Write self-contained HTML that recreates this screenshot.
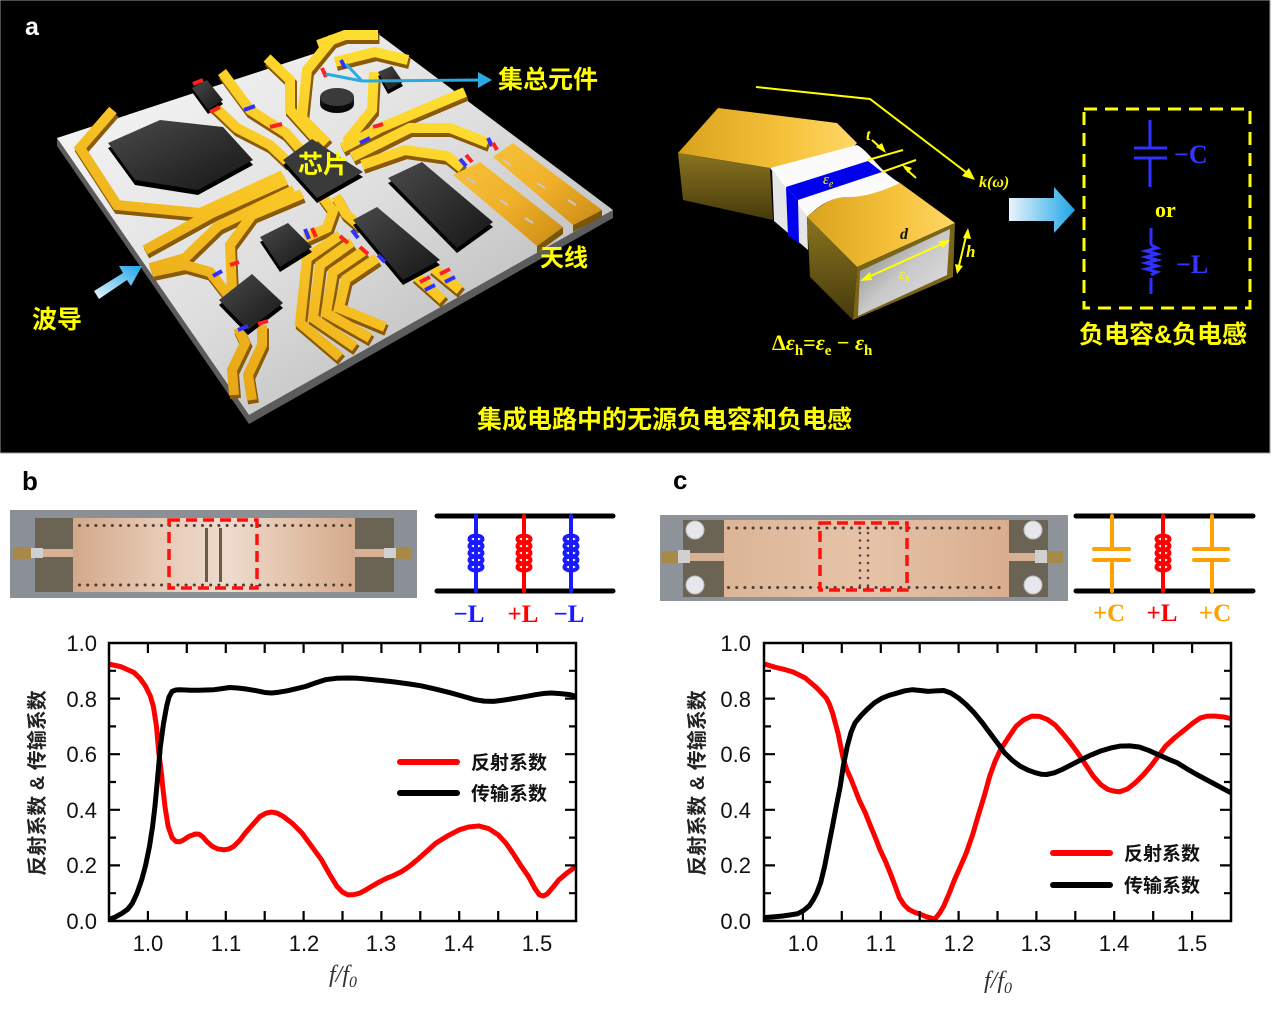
<!DOCTYPE html>
<html><head><meta charset="utf-8">
<style>
html,body{margin:0;padding:0;background:#fff;}
svg{display:block;}
.cn{font-family:"Liberation Sans","Noto Sans CJK SC",sans-serif;font-weight:bold;}
.sf{font-family:"Liberation Serif",serif;font-weight:bold;}
.ax{font-family:"Liberation Sans",sans-serif;font-size:22px;fill:#111;}
</style></head><body>
<svg width="1274" height="1011" viewBox="0 0 1274 1011" xmlns="http://www.w3.org/2000/svg">
<defs>
<linearGradient id="boardG" x1="0" y1="0" x2="1" y2="1">
<stop offset="0" stop-color="#fafafa"/><stop offset="0.5" stop-color="#dedede"/><stop offset="1" stop-color="#a9a9a9"/>
</linearGradient>
<linearGradient id="goldT" gradientUnits="userSpaceOnUse" x1="400" y1="40" x2="150" y2="400">
<stop offset="0" stop-color="#ffe030"/><stop offset="0.5" stop-color="#f8c424"/><stop offset="1" stop-color="#e39d12"/>
</linearGradient>
<linearGradient id="compG" x1="0" y1="0" x2="1" y2="1">
<stop offset="0" stop-color="#4a4a4a"/><stop offset="1" stop-color="#161616"/>
</linearGradient>
<linearGradient id="slabG" x1="0" y1="0" x2="1" y2="1">
<stop offset="0" stop-color="#f6c23a"/><stop offset="0.5" stop-color="#f0b02a"/><stop offset="1" stop-color="#c98a14"/>
</linearGradient>
<linearGradient id="wgTop" x1="0" y1="0" x2="1" y2="0">
<stop offset="0" stop-color="#d9a21e"/><stop offset="0.6" stop-color="#f5c23a"/><stop offset="1" stop-color="#ffd768"/>
</linearGradient>
<linearGradient id="wgSide" x1="0" y1="0" x2="0" y2="1">
<stop offset="0" stop-color="#8a7420"/><stop offset="1" stop-color="#463a0c"/>
</linearGradient>
<linearGradient id="grayIn" x1="0" y1="0" x2="1" y2="1">
<stop offset="0" stop-color="#7a7a7a"/><stop offset="0.5" stop-color="#c9c9c9"/><stop offset="1" stop-color="#e4e4e4"/>
</linearGradient>
<linearGradient id="arrG" x1="0" y1="0" x2="1" y2="0">
<stop offset="0" stop-color="#e8f4fc"/><stop offset="1" stop-color="#1ea6e6"/>
</linearGradient>
<linearGradient id="arrG2" x1="0" y1="1" x2="1" y2="0">
<stop offset="0" stop-color="#e8f4fc"/><stop offset="1" stop-color="#1ea6e6"/>
</linearGradient>
<linearGradient id="cuB" x1="0" y1="0" x2="1" y2="0">
<stop offset="0" stop-color="#d3a889"/><stop offset="0.3" stop-color="#e7c9b4"/><stop offset="0.55" stop-color="#eedbcd"/><stop offset="0.8" stop-color="#e2c0a6"/><stop offset="1" stop-color="#d4a98b"/>
</linearGradient>
<linearGradient id="cuC" x1="0" y1="0" x2="1" y2="0">
<stop offset="0" stop-color="#dcb597"/><stop offset="0.5" stop-color="#e6c3a8"/><stop offset="1" stop-color="#d9ad8e"/>
</linearGradient>
<pattern id="dotsB" x="77" y="523" width="8.2" height="59.5" patternUnits="userSpaceOnUse">
<circle cx="2.5" cy="2.5" r="1.5" fill="#4a3a30"/></pattern>
<pattern id="dotsC" x="726" y="525.5" width="8.2" height="59.5" patternUnits="userSpaceOnUse">
<circle cx="2.5" cy="2.5" r="1.5" fill="#4a3a30"/></pattern>
<pattern id="viaC" x="857" y="530" width="8" height="7.5" patternUnits="userSpaceOnUse">
<circle cx="3" cy="3" r="1.3" fill="#5a4536"/></pattern>
<g id="tr" fill="none">
<path d="M113,110 L80,148 L117,205 L200,213 L283,175"/>
<path d="M214,106 L237,128 L270,145 L289,163"/>
<path d="M222,72 L250,110 L286,133 L300,149"/>
<path d="M267,58 L290,80 L290,110 L318,141"/>
<path d="M333,38 L307,70 L302,118 L327,143"/>
<path d="M318,45 L345,35 L378,35"/>
<path d="M335,62 L375,52 L408,60"/>
<path d="M342,148 L380,128 L465,92"/>
<path d="M352,157 L410,128 L450,128 L488,143"/>
<path d="M362,165 L405,150 L447,156 L462,168"/>
<path d="M346,142 L372,110 L374,72"/>
<path d="M286,180 L212,213 L145,250"/>
<path d="M294,190 L218,226 L185,258 L150,268"/>
<path d="M302,194 L252,215 L230,245 L232,290"/>
<path d="M152,272 L185,265 L210,272 L228,295"/>
<path d="M322,196 L333,211 L327,228 L305,238"/>
<path d="M336,196 L346,214 L360,226"/>
<path d="M340,235 L307,258 L300,323 L340,357"/>
<path d="M352,242 L320,265 L313,318 L355,347"/>
<path d="M365,250 L333,272 L326,313 L370,338"/>
<path d="M377,258 L346,279 L339,308 L385,327"/>
<path d="M415,275 L443,300"/>
<path d="M432,267 L460,290"/>
<path d="M238,328 L245,343 L232,370 L234,395"/>
<path d="M262,325 L262,345 L248,375 L252,400"/>
</g>
</defs>

<!-- ===== Panel a ===== -->
<rect x="0" y="0" width="1270" height="453" fill="#000" stroke="#9a9a9a" stroke-width="1"/>
<text x="25" y="35" font-family="Liberation Sans,sans-serif" font-weight="bold" font-size="25" fill="#fff">a</text>

<!-- board -->
<polygon points="57,138 249,415 613,210 613,218 249,424 57,146" fill="#5c5c5c"/>
<polygon points="57,138 377,33 613,210 249,415" fill="url(#boardG)"/>

<!-- traces -->
<use href="#tr" stroke="#8a5a06" stroke-width="11" stroke-linejoin="miter" transform="translate(1.5,3.5)"/>
<use href="#tr" stroke="url(#goldT)" stroke-width="10" stroke-linejoin="miter"/>

<!-- antenna slabs -->
<polygon points="537,246 563,227 563,234 537,253" fill="#7a5608"/>
<polygon points="453,175 480,162 563,227 537,246" fill="url(#slabG)"/>
<polygon points="573,225 602,210 602,217 573,232" fill="#7a5608"/>
<polygon points="493,157 513,143 602,210 573,225" fill="url(#slabG)"/>
<g stroke="#c8c8c8" stroke-width="2">
<line x1="467" y1="178" x2="475" y2="183"/><line x1="500" y1="200" x2="508" y2="205"/><line x1="525" y1="218" x2="533" y2="223"/>
<line x1="503" y1="160" x2="511" y2="165"/><line x1="537" y1="183" x2="545" y2="188"/><line x1="568" y1="200" x2="576" y2="205"/>
</g>

<!-- components -->
<polygon points="108,148 160,125 223,132 253,165 198,195 135,185" fill="#000"/>
<polygon points="108,143 160,120 223,127 253,160 198,190 135,180" fill="url(#compG)"/>
<polygon points="283,165 312,144 363,177 317,203" fill="#000"/>
<polygon points="283,160 312,139 363,172 317,198" fill="#3a3a3a"/>
<polygon points="388,183 422,167 493,227 457,253" fill="#000"/>
<polygon points="388,178 422,162 493,222 457,248" fill="url(#compG)"/>
<polygon points="353,225 377,212 440,265 403,285" fill="#000"/>
<polygon points="353,220 377,207 440,260 403,280" fill="url(#compG)"/>
<polygon points="260,242 288,228 312,252 280,272" fill="#000"/>
<polygon points="260,237 288,223 312,247 280,267" fill="url(#compG)"/>
<polygon points="219,305 252,279 283,308 248,335" fill="#000"/>
<polygon points="219,300 252,274 283,303 248,330" fill="url(#compG)"/>
<polygon points="192,92 207,84 223,104 208,114" fill="#000"/>
<polygon points="192,88 207,80 223,100 208,110" fill="url(#compG)"/>
<ellipse cx="337" cy="104" rx="17" ry="9" fill="#0a0a0a"/>
<rect x="320" y="97" width="34" height="7" fill="#151515"/>
<ellipse cx="337" cy="97" rx="17" ry="9" fill="#3a3a3a"/>
<polygon points="378,76 392,70 403,86 388,94" fill="#000"/>
<polygon points="378,72 392,66 403,82 388,90" fill="url(#compG)"/>

<!-- red/blue bands -->
<g stroke-width="4">
<line x1="193" y1="84" x2="203" y2="80" stroke="#ff2020"/>
<line x1="210" y1="112" x2="220" y2="107" stroke="#ff2020"/>
<line x1="244" y1="110" x2="255" y2="106" stroke="#3030ff"/>
<line x1="270" y1="127" x2="282" y2="124" stroke="#ff2020"/>
<line x1="322" y1="68" x2="326" y2="77" stroke="#ff2020"/>
<line x1="341" y1="60" x2="345" y2="68" stroke="#3030ff"/>
<line x1="360" y1="143" x2="370" y2="138" stroke="#3030ff"/>
<line x1="373" y1="127" x2="383" y2="124" stroke="#ff2020"/>
<line x1="460" y1="159" x2="466" y2="166" stroke="#3030ff"/>
<line x1="466" y1="155" x2="472" y2="162" stroke="#ff2020"/>
<line x1="488" y1="138" x2="492" y2="146" stroke="#3030ff"/>
<line x1="493" y1="143" x2="497" y2="150" stroke="#ff2020"/>
<line x1="305" y1="229" x2="309" y2="239" stroke="#3030ff"/>
<line x1="312" y1="228" x2="316" y2="237" stroke="#ff2020"/>
<line x1="340" y1="236" x2="348" y2="243" stroke="#ff2020"/>
<line x1="352" y1="230" x2="358" y2="238" stroke="#3030ff"/>
<line x1="378" y1="255" x2="385" y2="262" stroke="#3030ff"/>
<line x1="360" y1="247" x2="368" y2="254" stroke="#ff2020"/>
<line x1="420" y1="282" x2="430" y2="277" stroke="#ff2020"/>
<line x1="425" y1="290" x2="435" y2="285" stroke="#3030ff"/>
<line x1="440" y1="274" x2="450" y2="269" stroke="#ff2020"/>
<line x1="445" y1="282" x2="455" y2="277" stroke="#3030ff"/>
<line x1="213" y1="276" x2="222" y2="271" stroke="#3030ff"/>
<line x1="230" y1="265" x2="239" y2="262" stroke="#ff2020"/>
<line x1="238" y1="330" x2="248" y2="326" stroke="#3030ff"/>
<line x1="258" y1="324" x2="268" y2="321" stroke="#ff2020"/>
</g>

<!-- chip text -->
<text x="323" y="173" text-anchor="middle" class="cn" font-size="25" fill="#ffff00">芯片</text>

<!-- arrow to lumped elements -->
<g stroke="#29abe2" stroke-width="3" fill="none">
<line x1="326" y1="74" x2="362" y2="81"/><line x1="346" y1="64" x2="362" y2="81"/>
<line x1="362" y1="81" x2="480" y2="80"/>
</g>
<polygon points="478,72 492,80 478,88" fill="#29abe2"/>
<text x="498" y="88" class="cn" font-size="25" fill="#ffff00">集总元件</text>

<text x="540" y="266" class="cn" font-size="24" fill="#ffff00">天线</text>
<text x="32" y="328" class="cn" font-size="25" fill="#ffff00">波导</text>
<!-- waveguide arrow -->
<polygon points="94,291 123,273 119,266 142,266 131,286 127,280 99,299" fill="url(#arrG2)"/>

<text x="477" y="428" class="cn" font-size="25" fill="#ffff00">集成电路中的无源负电容和负电感</text>

<!-- waveguide 3D -->
<path d="M678,153 L718,108 L837,123 L857,143 C850,152 840,156 820,158 L770,168 Z" fill="url(#wgTop)"/>
<polygon points="678,153 770,168 773,220 683,200" fill="url(#wgSide)"/>
<path d="M770,168 L857,145 C870,152 880,172 900,183 C885,192 860,200 840,198 C825,200 815,210 807,217 Z" fill="#fbfbfb"/>
<polygon points="772,169 807,217 808,250 774,221" fill="#e6e6e6"/>
<polygon points="786,187 868,161 882,172 798,200" fill="#0000ee"/>
<polygon points="786,187 798,200 799,243 788,236" fill="#0000ee"/>
<path d="M807,217 C818,208 828,198 845,197 C865,198 885,190 900,183 L955,223 L857,267 Z" fill="url(#wgTop)"/>
<polygon points="807,217 857,267 853,320 810,277" fill="url(#wgSide)"/>
<polygon points="857,267 955,223 953,277 853,320" fill="#7a6418"/>
<polygon points="860,271 950,229 947,275 858,316" fill="url(#grayIn)"/>

<!-- annotation lines -->
<g stroke="#ffff00" stroke-width="2" fill="none">
<polyline points="756,87 870,99 971,176"/>
<line x1="868" y1="160" x2="903" y2="150"/>
<line x1="882" y1="172" x2="916" y2="160"/>
<line x1="872" y1="140" x2="883" y2="150"/>
<line x1="916" y1="178" x2="905" y2="168"/>
<line x1="864" y1="279" x2="946" y2="242"/>
<line x1="967" y1="232" x2="958" y2="270"/>
</g>
<g fill="#ffff00">
<polygon points="975,180 962,176 969,168"/>
<polygon points="886,153 876,147 882,143"/>
<polygon points="902,165 912,168 908,173"/>
<polygon points="860,281 870,272 872,280"/>
<polygon points="950,240 938,241 943,248"/>
<polygon points="968,228 963,238 971,239"/>
<polygon points="957,274 955,264 963,266"/>
</g>
<text x="866" y="140" class="sf" font-style="italic" font-size="16" fill="#ffff00">t</text>
<text x="823" y="184" font-family="Liberation Serif,serif" font-style="italic" font-size="15" fill="#ffff00">ε<tspan font-size="10" dy="3">e</tspan></text>
<text x="900" y="239" class="sf" font-style="italic" font-size="16" fill="#111">d</text>
<text x="966" y="257" class="sf" font-style="italic" font-size="17" fill="#ffff00">h</text>
<text x="899" y="279" font-family="Liberation Serif,serif" font-style="italic" font-size="15" fill="#ffff00">ε<tspan font-size="10" dy="3">h</tspan></text>
<text x="979" y="187" class="sf" font-style="italic" font-size="16" fill="#ffff00">k(ω)</text>
<text x="772" y="350" class="sf" font-size="22" fill="#ffff00">Δ<tspan font-style="italic">ε</tspan><tspan font-size="15" dy="5">h</tspan><tspan dy="-5">=</tspan><tspan font-style="italic">ε</tspan><tspan font-size="15" dy="5">e</tspan><tspan dy="-5"> − </tspan><tspan font-style="italic">ε</tspan><tspan font-size="15" dy="5">h</tspan></text>

<!-- big blue arrow -->
<polygon points="1009,198 1054,198 1054,187 1075,210 1054,233 1054,221 1009,221" fill="url(#arrG)"/>

<!-- dashed box -->
<rect x="1084" y="109" width="166" height="199" fill="none" stroke="#ffff00" stroke-width="3" stroke-dasharray="13,8"/>
<g stroke="#3030ff" stroke-width="3" fill="none">
<line x1="1150" y1="120" x2="1150" y2="148"/>
<line x1="1134" y1="148" x2="1167" y2="148"/>
<line x1="1134" y1="158" x2="1167" y2="158"/>
<line x1="1150" y1="158" x2="1150" y2="187"/>
<line x1="1151" y1="228" x2="1151" y2="245"/>
<path d="M1151,245 l6,3 l-11,3 l11,3 l-11,3 l11,3 l-11,3 l11,3 l-11,3 l11,3 l-6,3"/>
<line x1="1151" y1="278" x2="1151" y2="294"/>
</g>
<text x="1174" y="163" class="sf" font-size="26" fill="#3535ff">−C</text>
<text x="1155" y="217" class="sf" font-size="22" fill="#ffff00">or</text>
<text x="1176" y="273" class="sf" font-size="26" fill="#3535ff">−L</text>
<text x="1079" y="343" class="cn" font-size="25" fill="#ffff00">负电容&amp;负电感</text>

<!-- ===== Panel b header ===== -->
<text x="22" y="490" font-family="Liberation Sans,sans-serif" font-weight="bold" font-size="26" fill="#000">b</text>
<text x="673" y="489" font-family="Liberation Sans,sans-serif" font-weight="bold" font-size="26" fill="#000">c</text>

<!-- photo b -->
<rect x="10" y="510" width="407" height="88" fill="#8b9097"/>
<rect x="35" y="518" width="38" height="74" fill="#6b6354"/>
<rect x="355" y="518" width="39" height="74" fill="#6b6354"/>
<rect x="73" y="518" width="282" height="74" fill="url(#cuB)"/>
<rect x="40" y="549" width="33" height="8" fill="#d6b193"/>
<rect x="355" y="549" width="30" height="8" fill="#d6b193"/>
<rect x="13" y="547" width="18" height="12" fill="#a88a48"/>
<rect x="31" y="548" width="12" height="10" fill="#d0d0d0"/>
<rect x="384" y="548" width="12" height="10" fill="#d0d0d0"/>
<rect x="396" y="547" width="16" height="12" fill="#a88a48"/>
<rect x="77" y="522" width="276" height="67" fill="url(#dotsB)"/>
<rect x="205" y="528" width="3" height="54" fill="#6a5a4a"/>
<rect x="219" y="528" width="3" height="54" fill="#6a5a4a"/>
<rect x="169" y="520" width="88" height="68" fill="none" stroke="#ff1010" stroke-width="3.5" stroke-dasharray="11,6"/>

<!-- circuit b -->
<g stroke-linecap="round" fill="none">
<line x1="437" y1="516" x2="613" y2="516" stroke="#000" stroke-width="5"/>
<line x1="437" y1="591" x2="613" y2="591" stroke="#000" stroke-width="5"/>
<g stroke="#1a1aff" stroke-width="4">
<line x1="476" y1="516" x2="476" y2="591"/>
<line x1="571" y1="516" x2="571" y2="591"/>
</g>
<line x1="524" y1="516" x2="524" y2="591" stroke="#ff0000" stroke-width="4"/>
<g stroke-width="4">
<g stroke="#1a1aff">
<ellipse cx="476" cy="539" rx="6.5" ry="3.5"/><ellipse cx="476" cy="546" rx="6.5" ry="3.5"/><ellipse cx="476" cy="553" rx="6.5" ry="3.5"/><ellipse cx="476" cy="560" rx="6.5" ry="3.5"/><ellipse cx="476" cy="567" rx="6.5" ry="3.5"/>
<ellipse cx="571" cy="539" rx="6.5" ry="3.5"/><ellipse cx="571" cy="546" rx="6.5" ry="3.5"/><ellipse cx="571" cy="553" rx="6.5" ry="3.5"/><ellipse cx="571" cy="560" rx="6.5" ry="3.5"/><ellipse cx="571" cy="567" rx="6.5" ry="3.5"/>
</g>
<g stroke="#ff0000">
<ellipse cx="524" cy="539" rx="6.5" ry="3.5"/><ellipse cx="524" cy="546" rx="6.5" ry="3.5"/><ellipse cx="524" cy="553" rx="6.5" ry="3.5"/><ellipse cx="524" cy="560" rx="6.5" ry="3.5"/><ellipse cx="524" cy="567" rx="6.5" ry="3.5"/>
</g>
</g>
</g>
<text x="469" y="622" text-anchor="middle" class="sf" font-size="25" fill="#1a1aff">−L</text>
<text x="523" y="622" text-anchor="middle" class="sf" font-size="25" fill="#ff0000">+L</text>
<text x="569" y="622" text-anchor="middle" class="sf" font-size="25" fill="#1a1aff">−L</text>

<!-- photo c -->
<rect x="660" y="515" width="408" height="86" fill="#8e9399"/>
<rect x="683" y="520" width="41" height="77" fill="#6b6354"/>
<rect x="1009" y="520" width="39" height="77" fill="#6b6354"/>
<rect x="724" y="520" width="285" height="77" fill="url(#cuC)"/>
<rect x="688" y="553" width="36" height="8" fill="#d6b193"/>
<rect x="1009" y="553" width="28" height="8" fill="#d6b193"/>
<rect x="662" y="551" width="16" height="12" fill="#a88a48"/>
<rect x="678" y="550" width="12" height="13" fill="#d0d0d0"/>
<rect x="1035" y="550" width="12" height="13" fill="#d0d0d0"/>
<rect x="1047" y="551" width="16" height="12" fill="#a88a48"/>
<g fill="#e6e7ec" stroke="#b9bbc0" stroke-width="1">
<circle cx="695" cy="530" r="9"/><circle cx="695" cy="585" r="9"/><circle cx="1033" cy="530" r="9"/><circle cx="1033" cy="585" r="9"/>
</g>
<rect x="726" y="524" width="275" height="67" fill="url(#dotsC)"/>
<rect x="857" y="530" width="16" height="56" fill="url(#viaC)"/>
<rect x="820" y="523" width="87" height="67" fill="none" stroke="#ff1010" stroke-width="3.5" stroke-dasharray="11,6"/>

<!-- circuit c -->
<g stroke-linecap="round" fill="none">
<line x1="1076" y1="516" x2="1253" y2="516" stroke="#000" stroke-width="5"/>
<line x1="1076" y1="591" x2="1253" y2="591" stroke="#000" stroke-width="5"/>
<g stroke="#ffa200" stroke-width="4">
<line x1="1112" y1="516" x2="1112" y2="549"/><line x1="1112" y1="560" x2="1112" y2="591"/>
<line x1="1094" y1="549" x2="1129" y2="549"/><line x1="1094" y1="560" x2="1129" y2="560"/>
<line x1="1212" y1="516" x2="1212" y2="549"/><line x1="1212" y1="560" x2="1212" y2="591"/>
<line x1="1194" y1="549" x2="1228" y2="549"/><line x1="1194" y1="560" x2="1228" y2="560"/>
</g>
<line x1="1163" y1="516" x2="1163" y2="591" stroke="#ff0000" stroke-width="4"/>
<g stroke="#ff0000" stroke-width="4">
<ellipse cx="1163" cy="539" rx="6.5" ry="3.5"/><ellipse cx="1163" cy="546" rx="6.5" ry="3.5"/><ellipse cx="1163" cy="553" rx="6.5" ry="3.5"/><ellipse cx="1163" cy="560" rx="6.5" ry="3.5"/><ellipse cx="1163" cy="567" rx="6.5" ry="3.5"/>
</g>
</g>
<text x="1109" y="621" text-anchor="middle" class="sf" font-size="25" fill="#ffa200">+C</text>
<text x="1162" y="621" text-anchor="middle" class="sf" font-size="25" fill="#ff0000">+L</text>
<text x="1215" y="621" text-anchor="middle" class="sf" font-size="25" fill="#ffa200">+C</text>

<!-- ===== Chart b ===== -->
<g>
<g transform="translate(109,921) scale(778.333,-278) translate(-0.95,0)" fill="none" stroke-linejoin="round">
<polyline vector-effect="non-scaling-stroke" stroke="#ff0000" stroke-width="5" points="0.95,0.924 0.965,0.915 0.982,0.894 0.990,0.872 0.997,0.844 1.003,0.81 1.007,0.772 1.011,0.70 1.014,0.604 1.017,0.54 1.019,0.484 1.022,0.41 1.026,0.34 1.031,0.30 1.036,0.286 1.041,0.285 1.046,0.292 1.053,0.305 1.061,0.313 1.066,0.312 1.070,0.304 1.076,0.285 1.083,0.268 1.090,0.259 1.098,0.256 1.104,0.259 1.110,0.268 1.118,0.29 1.125,0.316 1.135,0.348 1.144,0.376 1.152,0.388 1.159,0.392 1.166,0.388 1.174,0.376 1.186,0.35 1.198,0.316 1.210,0.27 1.223,0.22 1.233,0.17 1.243,0.124 1.250,0.104 1.257,0.094 1.265,0.095 1.272,0.1 1.280,0.112 1.287,0.124 1.297,0.14 1.307,0.154 1.316,0.164 1.326,0.178 1.336,0.197 1.346,0.22 1.358,0.25 1.370,0.28 1.385,0.306 1.400,0.328 1.412,0.338 1.425,0.342 1.438,0.332 1.450,0.31 1.460,0.28 1.469,0.244 1.479,0.2 1.489,0.16 1.497,0.118 1.503,0.094 1.508,0.09 1.513,0.097 1.520,0.12 1.528,0.148 1.538,0.172 1.55,0.196"/>
<polyline vector-effect="non-scaling-stroke" stroke="#000" stroke-width="5" points="0.95,0.006 0.958,0.014 0.967,0.028 0.974,0.042 0.980,0.064 0.986,0.1 0.992,0.148 0.997,0.2 1.002,0.268 1.006,0.34 1.009,0.412 1.012,0.5 1.016,0.628 1.020,0.71 1.024,0.772 1.027,0.805 1.031,0.826 1.036,0.831 1.041,0.832 1.055,0.830 1.066,0.83 1.075,0.831 1.085,0.832 1.095,0.836 1.105,0.84 1.115,0.838 1.125,0.835 1.140,0.828 1.150,0.822 1.159,0.82 1.168,0.823 1.179,0.828 1.190,0.835 1.203,0.844 1.215,0.856 1.228,0.868 1.242,0.873 1.257,0.874 1.270,0.873 1.282,0.870 1.300,0.865 1.316,0.86 1.335,0.853 1.351,0.846 1.370,0.834 1.390,0.82 1.405,0.808 1.420,0.796 1.432,0.791 1.444,0.79 1.456,0.794 1.469,0.8 1.484,0.807 1.498,0.814 1.510,0.819 1.518,0.82 1.530,0.818 1.543,0.814 1.55,0.808"/>
</g>
<rect x="109" y="643" width="467" height="278" fill="none" stroke="#000" stroke-width="2.5"/>
<path stroke="#000" stroke-width="2.2" fill="none" d="M147.9,921v-10M186.8,921v-10M225.8,921v-10M264.7,921v-10M303.6,921v-10M342.5,921v-10M381.4,921v-10M420.3,921v-10M459.2,921v-10M498.2,921v-10M537.1,921v-10
M147.9,643v10M186.8,643v10M225.8,643v10M264.7,643v10M303.6,643v10M342.5,643v10M381.4,643v10M420.3,643v10M459.2,643v10M498.2,643v10M537.1,643v10
M109,865.4h11M109,809.8h11M109,754.2h11M109,698.6h11M109,893.2h7M109,837.6h7M109,782h7M109,726.4h7M109,670.8h7
M576,865.4h-11M576,809.8h-11M576,754.2h-11M576,698.6h-11M576,893.2h-7M576,837.6h-7M576,782h-7M576,726.4h-7M576,670.8h-7"/>
<g class="ax" text-anchor="end">
<text x="97" y="929">0.0</text><text x="97" y="873">0.2</text><text x="97" y="818">0.4</text><text x="97" y="762">0.6</text><text x="97" y="707">0.8</text><text x="97" y="651">1.0</text>
</g>
<g class="ax" text-anchor="middle">
<text x="148" y="951">1.0</text><text x="226" y="951">1.1</text><text x="304" y="951">1.2</text><text x="381" y="951">1.3</text><text x="459" y="951">1.4</text><text x="537" y="951">1.5</text>
</g>
<text transform="translate(44,783) rotate(-90)" text-anchor="middle" class="cn" font-size="20" fill="#222">反射系数 &amp; 传输系数</text>
<text x="343" y="982" text-anchor="middle" font-family="Liberation Serif,serif" font-style="italic" font-size="24" fill="#333">f/f<tspan font-size="16" dy="5">0</tspan></text>
<line x1="400" y1="762" x2="457" y2="762" stroke="#ff0000" stroke-width="6" stroke-linecap="round"/>
<line x1="400" y1="793" x2="457" y2="793" stroke="#000" stroke-width="6" stroke-linecap="round"/>
<text x="471" y="769" class="cn" font-size="19" fill="#111">反射系数</text>
<text x="471" y="800" class="cn" font-size="19" fill="#111">传输系数</text>
</g>

<!-- ===== Chart c ===== -->
<g>
<g transform="translate(764,921) scale(778.333,-278) translate(-0.95,0)" fill="none" stroke-linejoin="round">
<polyline vector-effect="non-scaling-stroke" stroke="#ff0000" stroke-width="5" points="0.95,0.925 0.964,0.913 0.976,0.905 0.988,0.895 1.003,0.874 1.018,0.838 1.030,0.802 1.034,0.78 1.038,0.749 1.045,0.677 1.052,0.581 1.057,0.54 1.062,0.509 1.072,0.437 1.080,0.39 1.087,0.341 1.093,0.30 1.099,0.257 1.106,0.215 1.112,0.174 1.118,0.13 1.124,0.084 1.130,0.058 1.136,0.042 1.143,0.032 1.151,0.024 1.158,0.016 1.163,0.012 1.168,0.008 1.171,0.012 1.176,0.03 1.181,0.054 1.188,0.1 1.195,0.15 1.203,0.2 1.210,0.246 1.218,0.31 1.225,0.377 1.233,0.45 1.240,0.521 1.247,0.575 1.254,0.617 1.264,0.66 1.274,0.701 1.284,0.724 1.294,0.737 1.304,0.736 1.314,0.725 1.324,0.705 1.333,0.677 1.343,0.643 1.353,0.605 1.363,0.563 1.373,0.521 1.383,0.49 1.392,0.473 1.400,0.467 1.407,0.465 1.417,0.475 1.427,0.497 1.437,0.525 1.447,0.557 1.457,0.595 1.466,0.629 1.478,0.66 1.491,0.689 1.501,0.712 1.511,0.731 1.520,0.737 1.530,0.737 1.540,0.734 1.55,0.728"/>
<polyline vector-effect="non-scaling-stroke" stroke="#000" stroke-width="5" points="0.95,0.012 0.962,0.015 0.974,0.018 0.984,0.022 0.993,0.026 1.001,0.038 1.008,0.054 1.013,0.075 1.018,0.102 1.023,0.14 1.028,0.198 1.033,0.27 1.038,0.341 1.043,0.415 1.048,0.485 1.052,0.56 1.057,0.629 1.062,0.68 1.067,0.713 1.075,0.74 1.082,0.760 1.092,0.785 1.102,0.802 1.111,0.812 1.121,0.82 1.131,0.828 1.141,0.832 1.151,0.829 1.161,0.826 1.171,0.828 1.181,0.829 1.190,0.82 1.200,0.802 1.210,0.778 1.220,0.749 1.230,0.715 1.240,0.677 1.250,0.64 1.259,0.605 1.269,0.578 1.279,0.557 1.289,0.543 1.299,0.533 1.306,0.528 1.313,0.527 1.323,0.533 1.333,0.545 1.345,0.562 1.358,0.581 1.370,0.597 1.382,0.611 1.395,0.622 1.407,0.629 1.420,0.63 1.432,0.626 1.444,0.614 1.456,0.599 1.468,0.584 1.481,0.569 1.493,0.548 1.506,0.527 1.518,0.509 1.530,0.491 1.540,0.476 1.55,0.461"/>
</g>
<rect x="764" y="643" width="467" height="278" fill="none" stroke="#000" stroke-width="2.5"/>
<path stroke="#000" stroke-width="2.2" fill="none" d="M802.9,921v-10M841.8,921v-10M880.8,921v-10M919.7,921v-10M958.6,921v-10M997.5,921v-10M1036.4,921v-10M1075.3,921v-10M1114.2,921v-10M1153.2,921v-10M1192.1,921v-10
M802.9,643v10M841.8,643v10M880.8,643v10M919.7,643v10M958.6,643v10M997.5,643v10M1036.4,643v10M1075.3,643v10M1114.2,643v10M1153.2,643v10M1192.1,643v10
M764,865.4h11M764,809.8h11M764,754.2h11M764,698.6h11M764,893.2h7M764,837.6h7M764,782h7M764,726.4h7M764,670.8h7
M1231,865.4h-11M1231,809.8h-11M1231,754.2h-11M1231,698.6h-11M1231,893.2h-7M1231,837.6h-7M1231,782h-7M1231,726.4h-7M1231,670.8h-7"/>
<g class="ax" text-anchor="end">
<text x="751" y="929">0.0</text><text x="751" y="873">0.2</text><text x="751" y="818">0.4</text><text x="751" y="762">0.6</text><text x="751" y="707">0.8</text><text x="751" y="651">1.0</text>
</g>
<g class="ax" text-anchor="middle">
<text x="803" y="951">1.0</text><text x="881" y="951">1.1</text><text x="959" y="951">1.2</text><text x="1036" y="951">1.3</text><text x="1114" y="951">1.4</text><text x="1192" y="951">1.5</text>
</g>
<text transform="translate(704,783) rotate(-90)" text-anchor="middle" class="cn" font-size="20" fill="#222">反射系数 &amp; 传输系数</text>
<text x="998" y="988" text-anchor="middle" font-family="Liberation Serif,serif" font-style="italic" font-size="24" fill="#333">f/f<tspan font-size="16" dy="5">0</tspan></text>
<line x1="1053" y1="853" x2="1110" y2="853" stroke="#ff0000" stroke-width="6" stroke-linecap="round"/>
<line x1="1053" y1="885" x2="1110" y2="885" stroke="#000" stroke-width="6" stroke-linecap="round"/>
<text x="1124" y="860" class="cn" font-size="19" fill="#111">反射系数</text>
<text x="1124" y="892" class="cn" font-size="19" fill="#111">传输系数</text>
</g>
</svg>
</body></html>
